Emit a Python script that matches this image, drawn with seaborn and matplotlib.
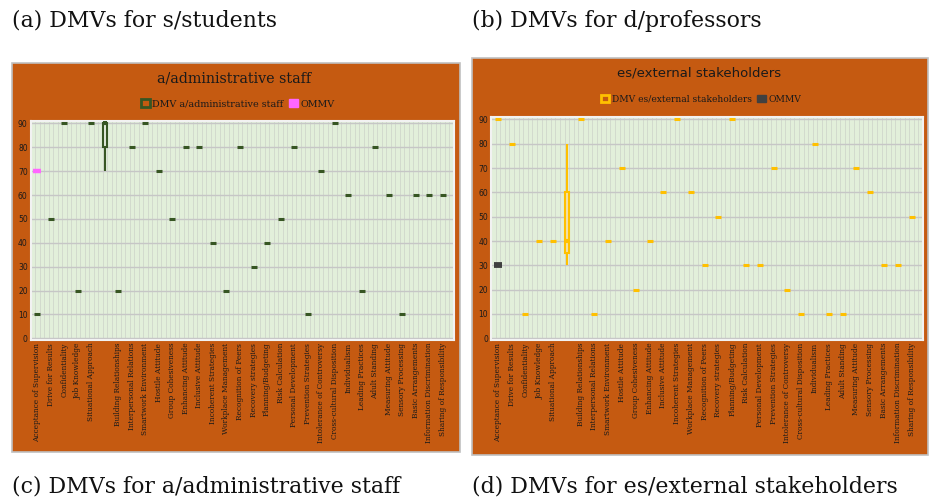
import numpy as np
import pandas as pd
import matplotlib
matplotlib.use('Agg')
import matplotlib.pyplot as plt
from matplotlib.patches import Rectangle, Patch
from matplotlib.lines import Line2D
import seaborn as sns

# Categories on the x axis (slot 5 is left blank for the box)
categories = ['Acceptance of Supervision', 'Drive for Results', 'Confidentiality',
              'Job Knowledge', 'Situational Approach', '', 'Building Relationships',
              'Interpersonal Relations', 'Smartwork Environment', 'Hostile Attitude',
              'Group Cohesiveness', 'Enhancing Attitude', 'Inclusive Attitude',
              'Incoherent Strategies', 'Workplace Management', 'Recognition of Peers',
              'Recovery strategies', 'Planning/Budgeting', 'Risk Calculation',
              'Personal Development', 'Prevention Strategies', 'Intolerance of Controversy',
              'Cross-cultural Disposition', 'Individualism', 'Leading Practices',
              'Adult Standing', 'Measuring Attitude', 'Sensory Processing',
              'Basic Arrangements', 'Information Discrimination', 'Sharing of Responsibility']

# DMV values
admin_dmv = [10, 50, 90, 20, 90, None, 20, 80, 90, 70, 50, 80, 80, 40, 20, 80,
             30, 40, 50, 80, 10, 70, 90, 60, 20, 80, 60, 10, 60, 60, 60]
ext_dmv = [90, 80, 10, 40, 40, None, 90, 10, 40, 70, 20, 40, 60, 90, 60, 30,
           50, 90, 30, 30, 70, 20, 10, 80, 10, 10, 70, 60, 30, 30, 50]

# values summarised by the box in the blank slot
admin_box = [70, 80, 90, 90, 90]
ext_box = [30, 35, 40, 60, 80]

# OMMV (first category only)
admin_ommv = [70]
ext_ommv = [30]

ORANGE = '#C55A11'
PLOT_BG = '#E2EFDA'
TXT = '#1A1A1A'
W, H = 932, 500

sns.set_style('white')
plt.rcParams['font.family'] = ['DejaVu Serif']

fig = plt.figure(figsize=(W / 100, H / 100), dpi=100)


def fx(px):
    return px / W


def fy(px):
    return 1 - px / H


def panel(x0, y0, x1, y1):
    fig.add_artist(Rectangle((fx(x0), fy(y1)), fx(x1 - x0), (y1 - y0) / H,
                             transform=fig.transFigure, facecolor=ORANGE,
                             edgecolor='#C0C0C0', lw=1.2, zorder=-1))


def draw_chart(ax, dmv, box_vals, ommv, color, box_fill, ommv_color, ommv_lw):
    df = pd.DataFrame({'pos': np.arange(len(categories)), 'value': dmv}).dropna()
    box_pos = categories.index('')
    sns.boxplot(x=[box_pos] * len(box_vals), y=box_vals, native_scale=True, orient='x',
                width=0.3, color=box_fill, linecolor=color, linewidth=1.5,
                showcaps=False, ax=ax, zorder=3,
                medianprops=dict(color=color, linewidth=3))
    sns.scatterplot(data=df, x='pos', y='value', marker='_', s=22, linewidth=2.2,
                    color=color, ax=ax, legend=False, zorder=4)
    sns.scatterplot(x=[0] * len(ommv), y=ommv, marker='_', s=40, linewidth=ommv_lw,
                    color=ommv_color, ax=ax, legend=False, zorder=5)

    ax.set_facecolor(PLOT_BG)
    ax.set_xlim(-0.5, len(categories) - 0.2)
    ax.set_ylim(-0.7, 91)
    ax.set_yticks(range(0, 100, 10))
    ax.set_yticklabels([str(v) for v in range(0, 100, 10)], family='DejaVu Sans',
                       fontsize=5.5, color=TXT)
    ax.set_xticks(range(len(categories)))
    ax.set_xticklabels(categories, rotation=90, fontsize=5.3, color=TXT)
    ax.set_xticks(np.arange(-0.5, len(categories), 1 / 3), minor=True)
    ax.set_axisbelow(True)
    ax.yaxis.grid(True, color='#C6C6C6', lw=1)
    ax.xaxis.grid(True, which='minor', color='#D2DACD', lw=0.7)
    ax.xaxis.grid(False, which='major')
    ax.tick_params(which='both', length=0, pad=2)
    ax.set_xlabel('')
    ax.set_ylabel('')
    for sp in ax.spines.values():
        sp.set_color('#F2F2F2')
        sp.set_linewidth(1.5)


# (c) a/administrative staff
panel(11.7, 62.5, 460, 451.7)
ax1 = fig.add_axes([fx(30.5), fy(340), fx(454 - 30.5), (340 - 121) / H])
draw_chart(ax1, admin_dmv, admin_box, admin_ommv, '#375623', '#E2EFDA', '#FF66FF', 3.2)
fig.text(fx(234.5), fy(78), 'a/administrative staff', ha='center', va='center',
         fontsize=10.3, color=TXT)
fig.legend(handles=[Patch(facecolor=ORANGE, edgecolor='#375623', lw=2,
                          label='DMV a/administrative staff'),
                    Patch(facecolor='#FF66FF', edgecolor='#FF66FF', lw=1, label='OMMV')],
           loc='center', bbox_to_anchor=(fx(238), fy(104)), ncol=2, frameon=False,
           fontsize=6.9, handlelength=0.9, handleheight=0.9, handletextpad=0.3,
           columnspacing=0.6, labelcolor=TXT)

# (d) es/external stakeholders
panel(471.7, 57.5, 928, 455)
ax2 = fig.add_axes([fx(491), fy(340), fx(923 - 491), (340 - 117) / H])
draw_chart(ax2, ext_dmv, ext_box, ext_ommv, '#FFC000', '#FCE7A2', '#404040', 4.2)
fig.text(fx(699.5), fy(73), 'es/external stakeholders', ha='center', va='center',
         family='DejaVu Sans', fontsize=9.5, color=TXT)
fig.legend(handles=[Patch(facecolor=ORANGE, edgecolor='#FFC000', lw=2,
                          label='DMV es/external stakeholders'),
                    Patch(facecolor='#404040', edgecolor='#404040', lw=1, label='OMMV')],
           loc='center', bbox_to_anchor=(fx(701), fy(99)), ncol=2, frameon=False,
           fontsize=6.6, handlelength=0.9, handleheight=0.9, handletextpad=0.3,
           columnspacing=0.6, labelcolor=TXT)

# sub-figure captions
cap = dict(fontsize=15.8, color='#111111', va='baseline', ha='left')
fig.text(fx(11.7), fy(27), '(a) DMVs for s/students', **cap)
fig.text(fx(471.7), fy(27), '(b) DMVs for d/professors', **cap)
fig.text(fx(11.7), fy(493), '(c) DMVs for a/administrative staff', **cap)
fig.text(fx(471.7), fy(493), '(d) DMVs for es/external stakeholders', **cap)

fig.savefig('out.png', dpi=100, facecolor='white')
